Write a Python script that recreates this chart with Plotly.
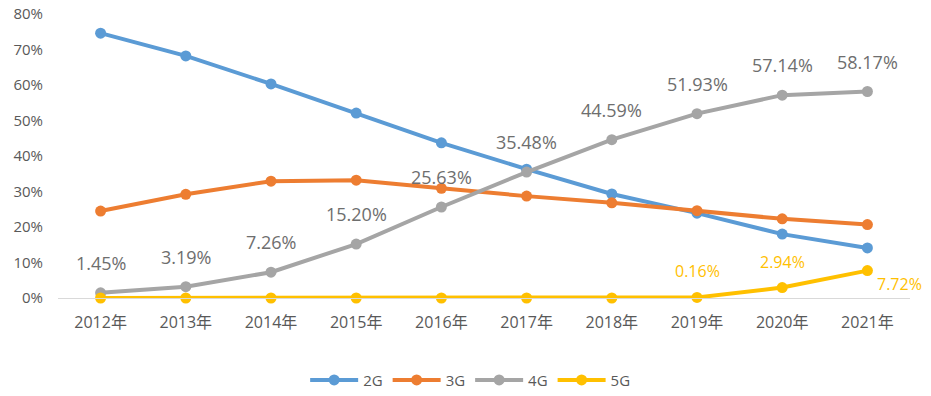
import plotly.graph_objects as go

years = ["2012年", "2013年", "2014年", "2015年", "2016年", "2017年", "2018年", "2019年", "2020年", "2021年"]
g2 = [74.6, 68.2, 60.3, 52.1, 43.7, 36.3, 29.3, 23.9, 18.0, 14.1]
g3 = [24.5, 29.2, 32.9, 33.2, 30.9, 28.7, 26.8, 24.6, 22.3, 20.7]
g4 = [1.45, 3.19, 7.26, 15.20, 25.63, 35.48, 44.59, 51.93, 57.14, 58.17]
g5 = [0.0, 0.0, 0.0, 0.0, 0.0, 0.0, 0.0, 0.16, 2.94, 7.72]
g5_labeled = ["2019年", "2020年", "2021年"]

colors = {"2G": "#5B9BD5", "3G": "#ED7D31", "4G": "#A5A5A5", "5G": "#FFC000"}
FONT = "'Open Sans', 'Noto Sans CJK SC', sans-serif"

fig = go.Figure()
for name, vals in [("2G", g2), ("3G", g3), ("4G", g4), ("5G", g5)]:
    fig.add_trace(go.Scatter(
        x=years, y=vals, name=name, mode="lines+markers",
        line=dict(color=colors[name], width=4),
        marker=dict(color=colors[name], size=11),
        cliponaxis=False,
    ))

annotations = []
for x, v in zip(years, g4):
    annotations.append(dict(x=x, y=v, text=f"{v:.2f}%", showarrow=False,
                            yshift=30, font=dict(size=18, color="#6E6E6E", family=FONT)))
for x in g5_labeled:
    i = years.index(x)
    v = g5[i]
    if x == "2021年":
        annotations.append(dict(x=x, y=v, text=f"{v:.2f}%", showarrow=False,
                                xshift=32, yshift=-13, font=dict(size=16, color=colors["5G"], family=FONT)))
    else:
        annotations.append(dict(x=x, y=v, text=f"{v:.2f}%", showarrow=False,
                                yshift=26, font=dict(size=16, color=colors["5G"], family=FONT)))

fig.update_layout(
    width=931, height=396,
    margin=dict(l=58, r=21, t=14, b=98, autoexpand=False),
    plot_bgcolor="white", paper_bgcolor="white",
    font=dict(family=FONT, color="#595959", size=15),
    showlegend=True,
    legend=dict(orientation="h", x=0.505, xanchor="center", xref="container",
                y=0.04, yanchor="middle", yref="container",
                font=dict(size=15, color="#595959"), itemwidth=48, tracegroupgap=0),
    annotations=annotations,
    xaxis=dict(type="category", showgrid=False, showline=True, linecolor="#D9D9D9",
               linewidth=1, ticks="", tickfont=dict(size=16, color="#595959"),
               range=[-0.5, 9.5], ticklabelstandoff=10),
    yaxis=dict(range=[0, 80], dtick=10, ticksuffix="%", showgrid=False, zeroline=False,
               showline=False, tickfont=dict(size=15, color="#595959"), ticklabelstandoff=14),
)

fig.write_html("out.html", config={"displayModeBar": False},
               post_script="document.body.style.margin='0';")
